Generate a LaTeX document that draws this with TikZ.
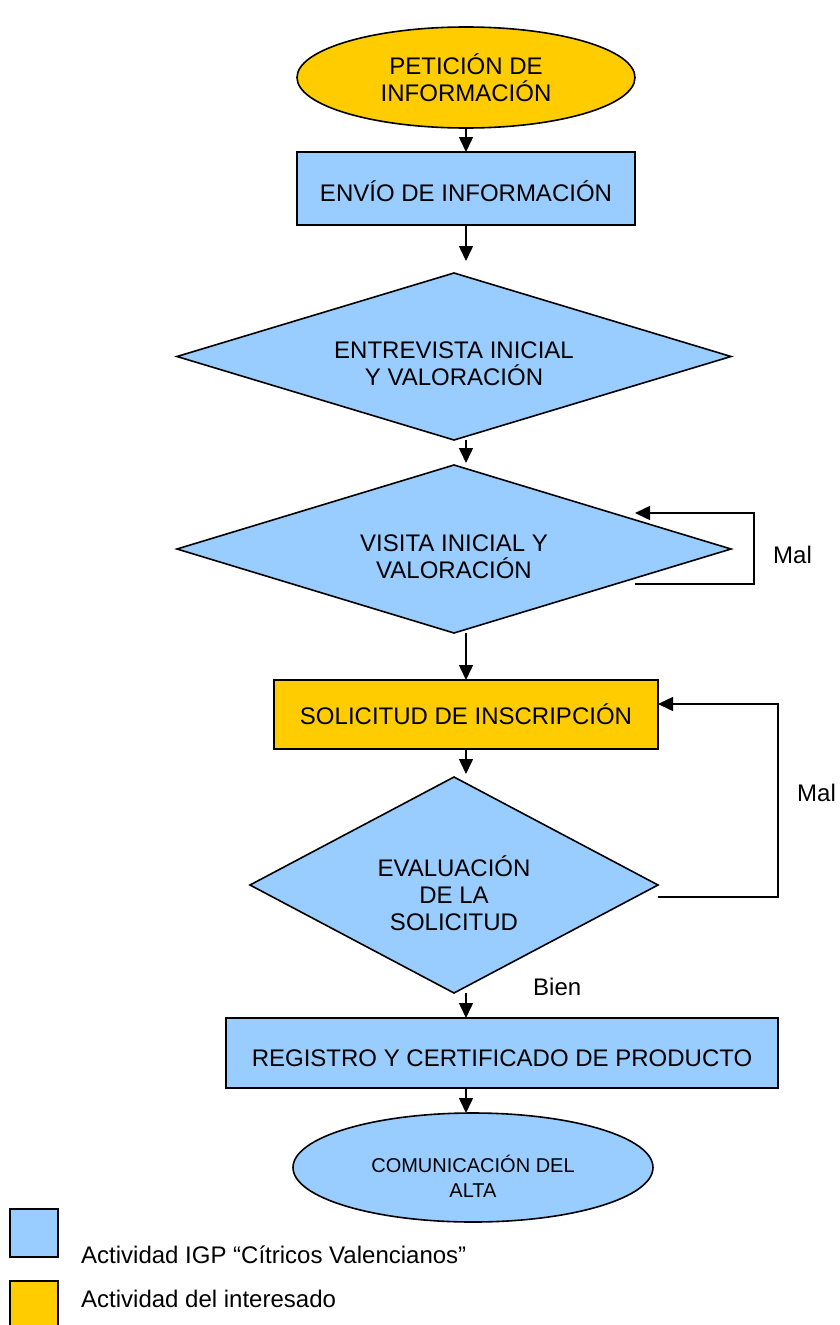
\documentclass[tikz,border=0pt]{standalone}
\usepackage{fontspec}
\setmainfont{Liberation Sans}
\usetikzlibrary{shapes.geometric,arrows.meta}
\definecolor{cblue}{HTML}{99CCFF}
\definecolor{cyell}{HTML}{FFCC00}
\begin{document}
\begin{tikzpicture}[x=1pt,y=-1pt,
  base/.style={draw=black,line width=1.6pt,inner sep=0pt,outer sep=0pt,align=center,font=\fontsize{24}{27}\selectfont},
  bluebox/.style={base,rectangle,fill=cblue},
  yellbox/.style={base,rectangle,fill=cyell},
  dia/.style={base,diamond,fill=cblue},
  ell/.style={base,ellipse},
  arr/.style={line width=1.5pt,-{Triangle[width=14pt,length=15pt]}},
  lbl/.style={font=\fontsize{24}{27}\selectfont,inner sep=0pt}]
\useasboundingbox (0,0) rectangle (840,1325);
\node[ell,fill=cyell,minimum width=338pt,minimum height=101pt] (pet) at (466,77.5) {PETICIÓN DE\\INFORMACIÓN};
\node[bluebox,minimum width=338pt,minimum height=73pt,text height=26pt,text depth=0pt] (env) at (466,188.5) {ENVÍO DE INFORMACIÓN};
\node[dia,shape aspect=3.3,minimum width=554pt,minimum height=167pt,text height=58pt,text depth=0pt] (ent) at (454,356.5) {ENTREVISTA INICIAL\\Y VALORACIÓN};
\node[dia,shape aspect=3.3,minimum width=554pt,minimum height=168pt,text height=58pt,text depth=0pt] (vis) at (454,549) {VISITA INICIAL Y\\VALORACIÓN};
\node[yellbox,minimum width=384pt,minimum height=69pt] (sol) at (466,714.5) {SOLICITUD DE INSCRIPCIÓN};
\node[dia,shape aspect=1.9,minimum width=408pt,minimum height=216pt,text height=90pt,text depth=0pt] (eva) at (454,885) {EVALUACIÓN\\DE LA\\SOLICITUD};
\node[bluebox,minimum width=552pt,minimum height=70pt,text height=26pt,text depth=0pt] (reg) at (502,1053) {REGISTRO Y CERTIFICADO DE PRODUCTO};
\node[ell,fill=cblue,minimum width=360pt,minimum height=109pt,font=\fontsize{20}{25}\selectfont,text height=59pt,text depth=0pt] (com) at (473,1167.5) {COMUNICACIÓN DEL\\ALTA};
% arrows
\coordinate (a2) at (466,261);
\coordinate (a3s) at (466,440);
\coordinate (a3) at (466,463);
\coordinate (a4s) at (466,633);
\coordinate (a5) at (466,774);
\coordinate (a6s) at (466,993);
\draw[arr] (pet.south -| a2) -- (env.north -| a2);
\draw[arr] (env.south -| a2) -- (a2);
\draw[arr] (a3s) -- (a3);
\draw[arr] (a4s) -- (sol.north -| a2);
\draw[arr] (sol.south -| a2) -- (a5);
\draw[arr] (a6s) -- (reg.north -| a2);
\draw[arr] (reg.south -| a2) -- (com.north -| a2);
% loops
\coordinate (l1a) at (635,584);
\coordinate (l1b) at (754,584);
\coordinate (l1c) at (754,513);
\coordinate (l1d) at (635,513);
\draw[arr] (l1a) -- (l1b) -- (l1c) -- (l1d);
\node[lbl,anchor=base west] (mal1) at (773,563) {Mal};
\coordinate (l2a) at (658,897);
\coordinate (l2b) at (778,897);
\coordinate (l2c) at (778,704);
\draw[arr] (l2a) -- (l2b) -- (l2c) -- (sol.east |- l2c);
\node[lbl,anchor=base west] (mal2) at (797,801) {Mal};
\node[lbl,anchor=base west] (bien) at (533,995) {Bien};
% legend
\node[draw=black,line width=1.6pt,fill=cblue,minimum width=48pt,minimum height=48pt,inner sep=0pt] (lb) at (34,1233) {};
\node[draw=black,line width=1.6pt,fill=cyell,minimum width=48pt,minimum height=48pt,inner sep=0pt] (ly) at (34,1305) {};
\node[lbl,anchor=base west] (tb) at (81,1263) {Actividad IGP “Cítricos Valencianos”};
\node[lbl,anchor=base west] (ty) at (81,1307) {Actividad del interesado};
\end{tikzpicture}
\end{document}
